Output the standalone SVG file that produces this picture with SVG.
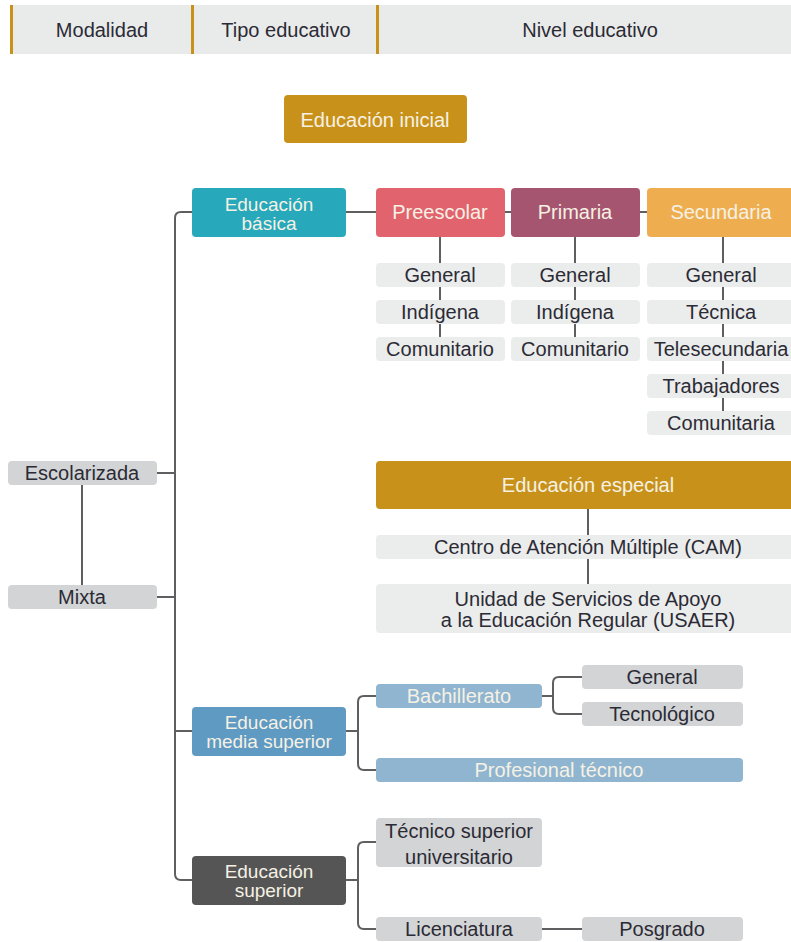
<svg xmlns="http://www.w3.org/2000/svg" width="791" height="942" viewBox="0 0 791 942">
  <style>
    text { font-family: "Liberation Sans", Arial, sans-serif; font-size: 20px; text-anchor: middle; }
    .tight { font-size: 19px; }
    .dark { fill: #2b2b35; }
    .light { fill: #f6f1e4; }
    .hdr { fill: #e9eaea; }
    .sep { fill: #c8921a; }
    .pale { fill: #ebecec; }
    .grey { fill: #d3d4d6; }
    .conn path { fill: none; stroke: #5f5f62; stroke-width: 2; }
  </style>

  <!-- Column header bar -->
  <g id="header">
    <rect class="hdr" x="10" y="5" width="781" height="49"/>
    <rect class="sep" x="10" y="5" width="3" height="49"/>
    <rect class="sep" x="191" y="5" width="3" height="49"/>
    <rect class="sep" x="376" y="5" width="3" height="49"/>
    <text class="dark" x="102" y="37">Modalidad</text>
    <text class="dark" x="286" y="37">Tipo educativo</text>
    <text class="dark" x="590" y="37">Nivel educativo</text>
  </g>

  <!-- Connectors -->
  <g id="connectors" class="conn">
    <!-- modality column -->
    <path d="M82 485 V585"/>
    <path d="M157 473 H175"/>
    <path d="M157 597 H175"/>
    <!-- spine to educational types -->
    <path d="M192 212 H181 Q175 212 175 218 V874 Q175 880 181 880 H192"/>
    <path d="M175 731 H192"/>
    <!-- basic education -->
    <path d="M346 212 H376"/>
    <path d="M505 212 H511"/>
    <path d="M640 212 H647"/>
    <path d="M440 237 V337"/>
    <path d="M575 237 V337"/>
    <path d="M723 237 V411"/>
    <!-- special education -->
    <path d="M588 509 V584"/>
    <!-- upper secondary -->
    <path d="M346 731 H358"/>
    <path d="M376 696 H364 Q358 696 358 702 V764 Q358 770 364 770 H376"/>
    <path d="M542 696 H553"/>
    <path d="M582 677 H559 Q553 677 553 683 V708 Q553 714 559 714 H582"/>
    <!-- higher education -->
    <path d="M346 880 H358"/>
    <path d="M376 842 H364 Q358 842 358 848 V923 Q358 929 364 929 H376"/>
    <path d="M542 929 H582"/>
  </g>

  <!-- Modalities -->
  <g id="escolarizada">
    <rect class="grey" x="8" y="461" width="149" height="24" rx="4"/>
    <text class="dark" x="82" y="480">Escolarizada</text>
  </g>
  <g id="mixta">
    <rect class="grey" x="8" y="585" width="149" height="24" rx="4"/>
    <text class="dark" x="82" y="604">Mixta</text>
  </g>

  <!-- Initial education -->
  <g id="educacion-inicial">
    <rect x="284" y="95" width="183" height="48" rx="4" fill="#c8921a"/>
    <text class="light" x="375" y="127">Educación inicial</text>
  </g>

  <!-- Basic education -->
  <g id="educacion-basica">
    <rect x="192" y="188" width="154" height="49" rx="4" fill="#27a8bb"/>
    <text class="light tight" x="269" y="211">Educación</text>
    <text class="light tight" x="269" y="230">básica</text>
  </g>
  <g id="preescolar">
    <rect x="376" y="188" width="129" height="49" rx="4" fill="#e0636e"/>
    <text class="light" x="440" y="219">Preescolar</text>
  </g>
  <g id="primaria">
    <rect x="511" y="188" width="129" height="49" rx="4" fill="#a5556f"/>
    <text class="light" x="575" y="219">Primaria</text>
  </g>
  <g id="secundaria">
    <rect x="647" y="188" width="148" height="49" rx="4" fill="#eeae50"/>
    <text class="light" x="721" y="219">Secundaria</text>
  </g>

  <g id="preescolar-general">
    <rect class="pale" x="376" y="263" width="129" height="24" rx="4"/>
    <text class="dark" x="440" y="282">General</text>
  </g>
  <g id="preescolar-indigena">
    <rect class="pale" x="376" y="300" width="129" height="24" rx="4"/>
    <text class="dark" x="440" y="319">Indígena</text>
  </g>
  <g id="preescolar-comunitario">
    <rect class="pale" x="376" y="337" width="129" height="24" rx="4"/>
    <text class="dark" x="440" y="356">Comunitario</text>
  </g>

  <g id="primaria-general">
    <rect class="pale" x="511" y="263" width="129" height="24" rx="4"/>
    <text class="dark" x="575" y="282">General</text>
  </g>
  <g id="primaria-indigena">
    <rect class="pale" x="511" y="300" width="129" height="24" rx="4"/>
    <text class="dark" x="575" y="319">Indígena</text>
  </g>
  <g id="primaria-comunitario">
    <rect class="pale" x="511" y="337" width="129" height="24" rx="4"/>
    <text class="dark" x="575" y="356">Comunitario</text>
  </g>

  <g id="secundaria-general">
    <rect class="pale" x="647" y="263" width="148" height="24" rx="4"/>
    <text class="dark" x="721" y="282">General</text>
  </g>
  <g id="secundaria-tecnica">
    <rect class="pale" x="647" y="300" width="148" height="24" rx="4"/>
    <text class="dark" x="721" y="319">Técnica</text>
  </g>
  <g id="telesecundaria">
    <rect class="pale" x="647" y="337" width="148" height="24" rx="4"/>
    <text class="dark" x="721" y="356">Telesecundaria</text>
  </g>
  <g id="trabajadores">
    <rect class="pale" x="647" y="374" width="148" height="24" rx="4"/>
    <text class="dark" x="721" y="393">Trabajadores</text>
  </g>
  <g id="secundaria-comunitaria">
    <rect class="pale" x="647" y="411" width="148" height="24" rx="4"/>
    <text class="dark" x="721" y="430">Comunitaria</text>
  </g>

  <!-- Special education -->
  <g id="educacion-especial">
    <rect x="376" y="461" width="420" height="48" rx="4" fill="#c8921a"/>
    <text class="light" x="588" y="492">Educación especial</text>
  </g>
  <g id="cam">
    <rect class="pale" x="376" y="535" width="420" height="24" rx="4"/>
    <text class="dark" x="588" y="554">Centro de Atención Múltiple (CAM)</text>
  </g>
  <g id="usaer">
    <rect class="pale" x="376" y="584" width="420" height="49" rx="4"/>
    <text class="dark" x="588" y="606">Unidad de Servicios de Apoyo</text>
    <text class="dark" x="588" y="627">a la Educación Regular (USAER)</text>
  </g>

  <!-- Upper secondary education -->
  <g id="educacion-media-superior">
    <rect x="192" y="707" width="154" height="49" rx="4" fill="#5f9ac3"/>
    <text class="light tight" x="269" y="729">Educación</text>
    <text class="light tight" x="269" y="748">media superior</text>
  </g>
  <g id="bachillerato">
    <rect x="376" y="684" width="166" height="24" rx="4" fill="#8fb5d0"/>
    <text class="light" x="459" y="703">Bachillerato</text>
  </g>
  <g id="bachillerato-general">
    <rect class="grey" x="582" y="665" width="161" height="24" rx="4"/>
    <text class="dark" x="662" y="684">General</text>
  </g>
  <g id="bachillerato-tecnologico">
    <rect class="grey" x="582" y="702" width="161" height="24" rx="4"/>
    <text class="dark" x="662" y="721">Tecnológico</text>
  </g>
  <g id="profesional-tecnico">
    <rect x="376" y="758" width="367" height="24" rx="4" fill="#8fb5d0"/>
    <text class="light" x="559" y="777">Profesional técnico</text>
  </g>

  <!-- Higher education -->
  <g id="educacion-superior">
    <rect x="192" y="856" width="154" height="49" rx="4" fill="#555556"/>
    <text class="light tight" x="269" y="878">Educación</text>
    <text class="light tight" x="269" y="897">superior</text>
  </g>
  <g id="tecnico-superior-universitario">
    <rect class="grey" x="376" y="818" width="166" height="49" rx="4"/>
    <text class="dark" x="459" y="838">Técnico superior</text>
    <text class="dark" x="459" y="864">universitario</text>
  </g>
  <g id="licenciatura">
    <rect class="grey" x="376" y="917" width="166" height="24" rx="4"/>
    <text class="dark" x="459" y="936">Licenciatura</text>
  </g>
  <g id="posgrado">
    <rect class="grey" x="582" y="917" width="161" height="24" rx="4"/>
    <text class="dark" x="662" y="936">Posgrado</text>
  </g>
</svg>
